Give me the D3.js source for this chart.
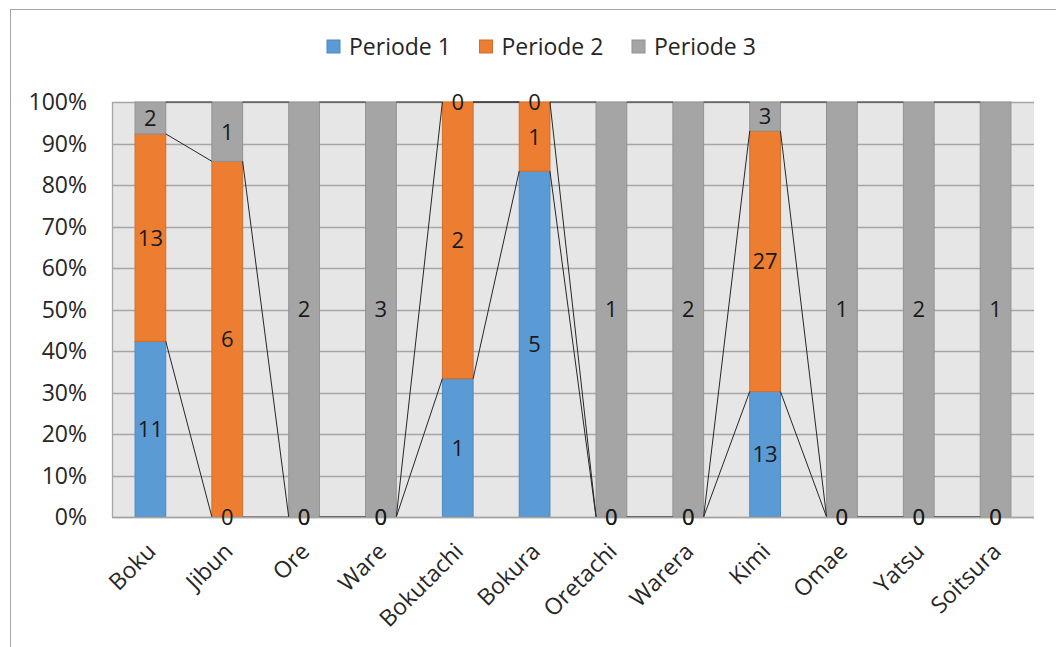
<!DOCTYPE html>
<html>
<head>
<meta charset="utf-8">
<script src="https://cdn.jsdelivr.net/npm/d3@7"></script>
<style>
  html, body { margin: 0; padding: 0; background: #fff; }
  svg { display: block; font-family: "Open Sans", sans-serif; }
</style>
</head>
<body>
<div id="chart"></div>
<script>
const categories = ["Boku", "Jibun", "Ore", "Ware", "Bokutachi", "Bokura", "Oretachi", "Warera", "Kimi", "Omae", "Yatsu", "Soitsura"]
const seriesNames = ["Periode 1", "Periode 2", "Periode 3"]
const periode1 = [11, 0, 0, 0, 1, 5, 0, 0, 13, 0, 0, 0]
const periode2 = [13, 6, 0, 0, 2, 1, 0, 0, 27, 0, 0, 0]
const periode3 = [2, 1, 2, 3, 0, 0, 1, 2, 3, 1, 2, 1]
const yTicks = [0, 0.1, 0.2, 0.3, 0.4, 0.5, 0.6, 0.7, 0.8, 0.9, 1]
const colors = ["#5b9bd5", "#ed7d31", "#a5a5a5"]

const width = 1056
const height = 647
const plot = { left: 112, right: 1034, top: 102, bottom: 517 }

const svg = d3.select("#chart")
  .append("svg")
  .attr("width", width)
  .attr("height", height)

// chart frame (cropped on the right and bottom in the original)
svg.append("rect")
  .attr("x", 10.5).attr("y", 9.5)
  .attr("width", width + 20).attr("height", height + 20)
  .attr("fill", "#fff")
  .attr("stroke", "#a6a6a6")

// rows -> stacked shares
const rows = categories.map((c, i) => {
  const vals = [periode1[i], periode2[i], periode3[i]]
  const total = d3.sum(vals)
  return { cat: c, vals, total }
})
const stacked = rows.map(r => {
  let acc = 0
  return r.vals.map((v, s) => {
    const y0 = acc / r.total
    acc += v
    return { cat: r.cat, s, v, y0, y1: acc / r.total }
  })
})

const x = d3.scaleBand()
  .domain(categories)
  .range([plot.left, plot.right])
  .paddingInner(0.6)
  .paddingOuter(0.3)

const y = d3.scaleLinear()
  .domain([0, 1])
  .range([plot.bottom, plot.top])

// plot background
svg.append("rect")
  .attr("x", plot.left).attr("y", plot.top)
  .attr("width", plot.right - plot.left).attr("height", plot.bottom - plot.top)
  .attr("fill", "#e7e6e6")

// gridlines
svg.append("g")
  .selectAll("line")
  .data(yTicks)
  .join("line")
  .attr("x1", plot.left).attr("x2", plot.right)
  .attr("y1", d => Math.round(y(d)) + 0.5).attr("y2", d => Math.round(y(d)) + 0.5)
  .attr("stroke", "#a6a6a6")
  .attr("stroke-width", 1.3)

svg.append("line")
  .attr("x1", plot.left + 0.5).attr("x2", plot.left + 0.5)
  .attr("y1", plot.top).attr("y2", plot.bottom)
  .attr("stroke", "#a6a6a6")
  .attr("stroke-width", 1.3)

// bars
svg.append("g")
  .selectAll("g")
  .data(stacked)
  .join("g")
  .selectAll("rect")
  .data(d => d)
  .join("rect")
  .attr("x", d => x(d.cat))
  .attr("width", x.bandwidth())
  .attr("y", d => y(d.y1))
  .attr("height", d => y(d.y0) - y(d.y1))
  .attr("fill", d => colors[d.s])
  .attr("stroke", d => d3.color(colors[d.s]).darker(0.35))
  .attr("stroke-width", d => d.v > 0 ? 1 : 0)

// series lines between neighbouring columns
const links = []
for (let s = 0; s < seriesNames.length; s++) {
  for (let i = 0; i < categories.length - 1; i++) {
    links.push({ a: stacked[i][s], b: stacked[i + 1][s] })
  }
}
svg.append("g")
  .selectAll("line")
  .data(links)
  .join("line")
  .attr("x1", d => x(d.a.cat) + x.bandwidth())
  .attr("y1", d => y(d.a.y1))
  .attr("x2", d => x(d.b.cat))
  .attr("y2", d => y(d.b.y1))
  .attr("stroke", "#262626")
  .attr("stroke-width", 1)

// x axis line
svg.append("line")
  .attr("x1", plot.left).attr("x2", plot.right)
  .attr("y1", plot.bottom + 0.5).attr("y2", plot.bottom + 0.5)
  .attr("stroke", "#a6a6a6")
  .attr("stroke-width", 1.3)

// data labels
svg.append("g")
  .selectAll("g")
  .data(stacked)
  .join("g")
  .selectAll("text")
  .data(d => d)
  .join("text")
  .attr("x", d => x(d.cat) + x.bandwidth() / 2)
  .attr("y", d => y((d.y0 + d.y1) / 2))
  .attr("dy", "0.36em")
  .attr("text-anchor", "middle")
  .attr("font-size", 22)
  .attr("fill", "#1a1a1a")
  .text(d => d.v)

// y tick labels
svg.append("g")
  .selectAll("text")
  .data(yTicks)
  .join("text")
  .attr("x", 87)
  .attr("y", d => y(d))
  .attr("dy", "0.36em")
  .attr("text-anchor", "end")
  .attr("font-size", 23)
  .attr("fill", "#262626")
  .text(d3.format(".0%"))

// category labels
svg.append("g")
  .selectAll("text")
  .data(categories)
  .join("text")
  .attr("transform", d => `translate(${x(d) + x.bandwidth() / 2 + 1},${plot.bottom + 30}) rotate(-45)`)
  .attr("text-anchor", "end")
  .attr("dy", "0.36em")
  .attr("font-size", 23)
  .attr("fill", "#262626")
  .text(d => d)

// legend
const legend = svg.append("g")
  .selectAll("g")
  .data(seriesNames)
  .join("g")
  .attr("transform", (d, i) => `translate(${327 + i * 152.5},40)`)
legend.append("rect")
  .attr("width", 13).attr("height", 13)
  .attr("fill", (d, i) => colors[i])
  .attr("stroke", (d, i) => d3.color(colors[i]).darker(0.35))
legend.append("text")
  .attr("x", 22)
  .attr("y", 7)
  .attr("dy", "0.36em")
  .attr("font-size", 23)
  .attr("fill", "#262626")
  .text(d => d)
</script>
</body>
</html>
